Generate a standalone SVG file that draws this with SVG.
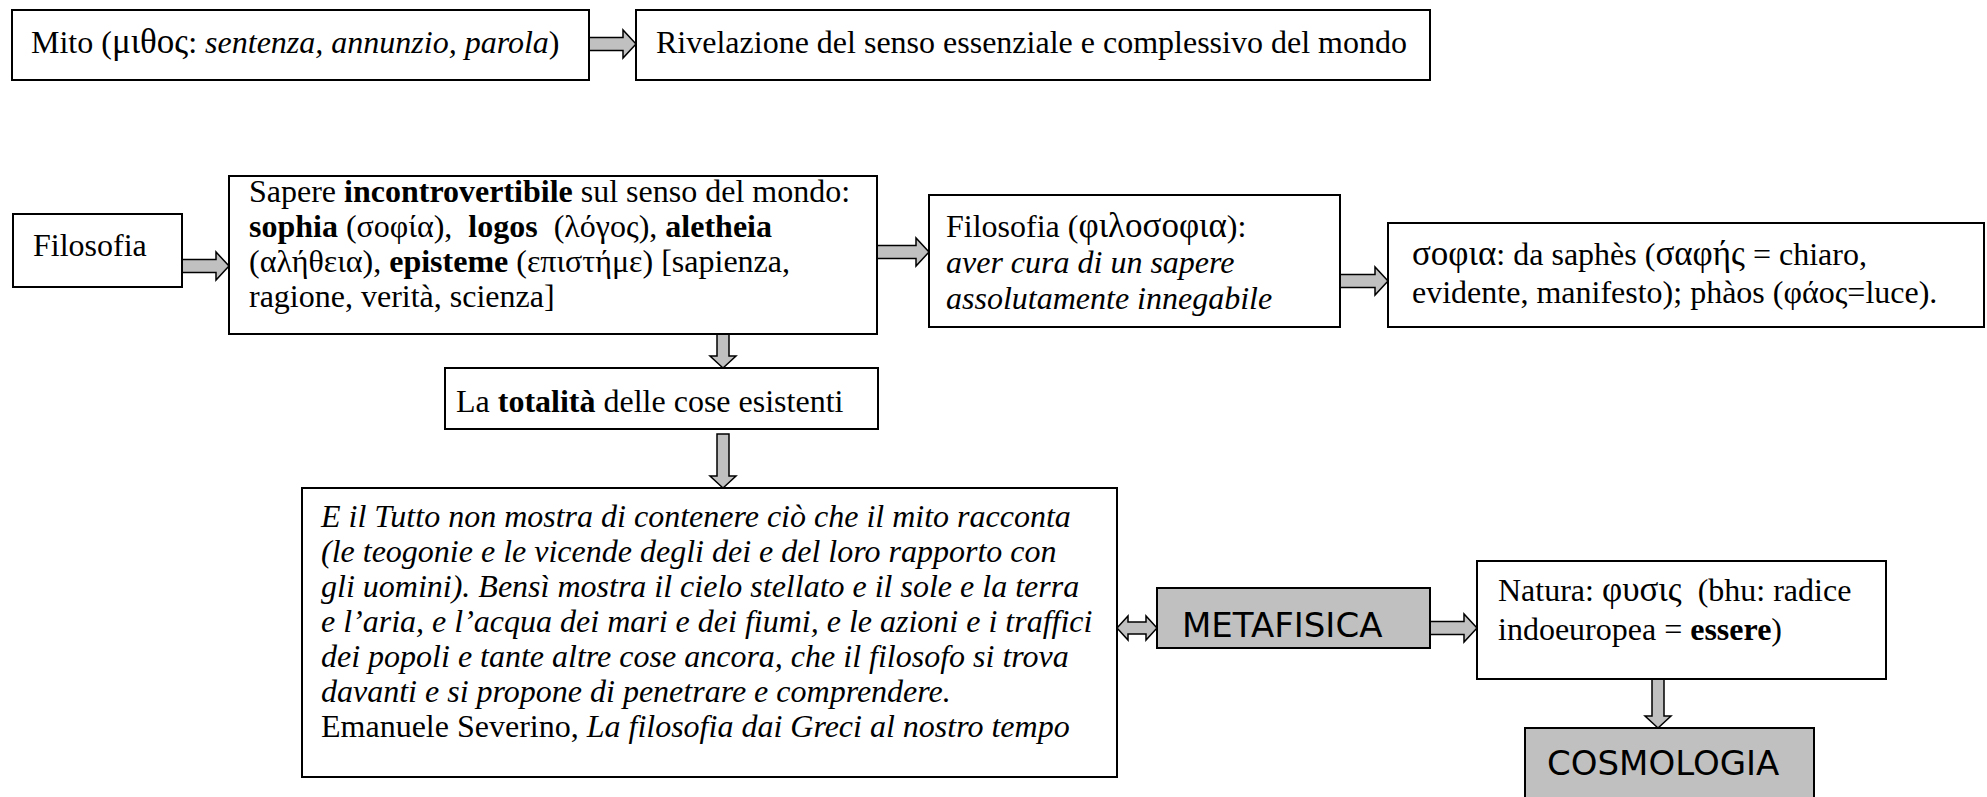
<svg xmlns="http://www.w3.org/2000/svg" width="1987" height="797" viewBox="0 0 1987 797">
<style>
  .box { fill: #ffffff; stroke: #000000; stroke-width: 2; }
  .gbox { fill: #c0c0c0; stroke: #000000; stroke-width: 2; }
  .arr { fill: #c0c0c0; stroke: #000000; stroke-width: 1.5; stroke-linejoin: miter; }
  .t { font-family: "Liberation Serif", "Times New Roman", serif; font-size: 32px; fill: #000000; }
  .i { font-style: italic; }
  .b { font-weight: bold; }
  .gk { font-size: 35px; }
  .c { font-family: "DejaVu Sans", "Liberation Sans", sans-serif; font-size: 34px; fill: #000000; }
</style>
<rect width="1987" height="797" fill="#ffffff"/>

<g id="connectors">
  <path class="arr" d="M589,37.5 H623 V30 L636,44 L623,58 V50.5 H589 Z"/>
  <path class="arr" d="M182,259.5 H216 V252 L229,266 L216,280 V272.5 H182 Z"/>
  <path class="arr" d="M877,245.5 H916 V238 L929,252 L916,266 V258.5 H877 Z"/>
  <path class="arr" d="M1340,274.5 H1375 V267 L1388,281 L1375,295 V287.5 H1340 Z"/>
  <path class="arr" d="M717,334 V356 H710 L723,368 L736,356 H729 V334 Z"/>
  <path class="arr" d="M717,434 V476 H710 L723,488 L736,476 H729 V434 Z"/>
  <path class="arr" d="M1117,628 L1128,616 V622 H1146 V616 L1157,628 L1146,640 V634 H1128 V640 Z"/>
  <path class="arr" d="M1430,621.5 H1464 V614 L1477,628 L1464,642 V634.5 H1430 Z"/>
  <path class="arr" d="M1652,679 V716 H1645 L1658,728 L1671,716 H1664 V679 Z"/>
</g>

<g id="mito">
  <rect class="box" x="12" y="10" width="577" height="70"/>
  <text class="t" x="31" y="53">Mito (<tspan class="gk">μιθος</tspan>: <tspan class="i">sentenza, annunzio, parola</tspan>)</text>
</g>

<g id="rivelazione">
  <rect class="box" x="636" y="10" width="794" height="70"/>
  <text class="t" x="656" y="53">Rivelazione del senso essenziale e complessivo del mondo</text>
</g>

<g id="filosofia">
  <rect class="box" x="13" y="214" width="169" height="73"/>
  <text class="t" x="33" y="256">Filosofia</text>
</g>

<g id="sapere">
  <rect class="box" x="229" y="176" width="648" height="158"/>
  <text class="t" x="249" y="202">Sapere <tspan class="b">incontrovertibile</tspan> sul senso del mondo:</text>
  <text class="t" x="249" y="237"><tspan class="b">sophia</tspan> (σοφία),&#160; <tspan class="b">logos</tspan>&#160; (λόγος), <tspan class="b">aletheia</tspan></text>
  <text class="t" x="249" y="272">(αλήθεια), <tspan class="b">episteme</tspan> (επιστήμε) [sapienza,</text>
  <text class="t" x="249" y="307">ragione, verità, scienza]</text>
</g>

<g id="philosophia">
  <rect class="box" x="929" y="195" width="411" height="132"/>
  <text class="t" x="946" y="237">Filosofia (<tspan class="gk">φιλοσοφια</tspan>):</text>
  <text class="t i" x="946" y="273">aver cura di un sapere</text>
  <text class="t i" x="946" y="309">assolutamente innegabile</text>
</g>

<g id="sophia">
  <rect class="box" x="1388" y="223" width="596" height="104"/>
  <text class="t" x="1412" y="265"><tspan class="gk">σοφια</tspan>: da saphès (<tspan class="gk">σαφής</tspan> = chiaro,</text>
  <text class="t" x="1412" y="303">evidente, manifesto); phàos (φάος=luce).</text>
</g>

<g id="totalita">
  <rect class="box" x="445" y="368" width="433" height="61"/>
  <text class="t" x="456" y="412">La <tspan class="b">totalità</tspan> delle cose esistenti</text>
</g>

<g id="citazione">
  <rect class="box" x="302" y="488" width="815" height="289"/>
  <text class="t i" x="321" y="527">E il Tutto non mostra di contenere ciò che il mito racconta</text>
  <text class="t i" x="321" y="562">(le teogonie e le vicende degli dei e del loro rapporto con</text>
  <text class="t i" x="321" y="597">gli uomini). Bensì mostra il cielo stellato e il sole e la terra</text>
  <text class="t i" x="321" y="632">e l’aria, e l’acqua dei mari e dei fiumi, e le azioni e i traffici</text>
  <text class="t i" x="321" y="667">dei popoli e tante altre cose ancora, che il filosofo si trova</text>
  <text class="t i" x="321" y="702">davanti e si propone di penetrare e comprendere.</text>
  <text class="t" x="321" y="737">Emanuele Severino, <tspan class="i">La filosofia dai Greci al nostro tempo</tspan></text>
</g>

<g id="metafisica">
  <rect class="gbox" x="1157" y="588" width="273" height="60"/>
  <text class="c" x="1182" y="637">METAFISICA</text>
</g>

<g id="natura">
  <rect class="box" x="1477" y="561" width="409" height="118"/>
  <text class="t" x="1498" y="601">Natura: <tspan class="gk">φυσις</tspan>&#160; (bhu: radice</text>
  <text class="t" x="1498" y="640">indoeuropea = <tspan class="b">essere</tspan>)</text>
</g>

<g id="cosmologia">
  <rect class="gbox" x="1525" y="728" width="289" height="80"/>
  <text class="c" x="1547" y="775">COSMOLOGIA</text>
</g>
</svg>
